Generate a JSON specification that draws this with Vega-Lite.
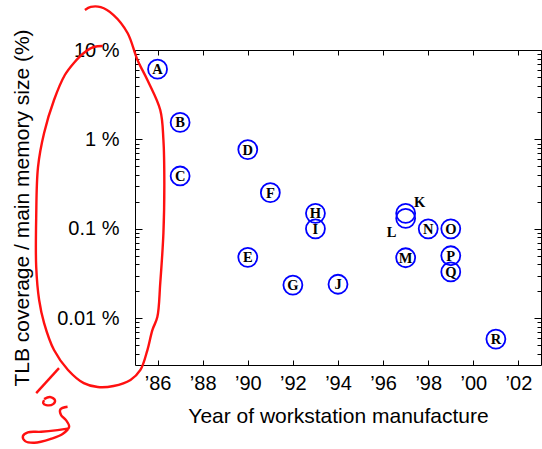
{
  "$schema": "https://vega.github.io/schema/vega-lite/v6.json",
  "width": 406,
  "height": 315,
  "autosize": {"type": "none"},
  "padding": {"left": 135, "top": 50, "right": 1, "bottom": 84},
  "config": {
    "view": {"stroke": "black", "strokeWidth": 1},
    "axis": {
      "labelFont": "Liberation Sans",
      "titleFont": "Liberation Sans",
      "labelColor": "black",
      "titleColor": "black",
      "tickColor": "black",
      "domain": false,
      "grid": false,
      "titleFontWeight": "normal"
    }
  },
  "datasets": {
    "machines": [
      {"id": "A", "year": 1986, "pct": 6.1},
      {"id": "B", "year": 1987, "pct": 1.55},
      {"id": "C", "year": 1987, "pct": 0.39},
      {"id": "D", "year": 1990, "pct": 0.77},
      {"id": "E", "year": 1990, "pct": 0.048},
      {"id": "F", "year": 1991, "pct": 0.254},
      {"id": "G", "year": 1992, "pct": 0.0235},
      {"id": "H", "year": 1993, "pct": 0.149},
      {"id": "I", "year": 1993, "pct": 0.1},
      {"id": "J", "year": 1994, "pct": 0.024},
      {"id": "K", "year": 1997, "pct": 0.149},
      {"id": "L", "year": 1997, "pct": 0.131},
      {"id": "M", "year": 1997, "pct": 0.0475},
      {"id": "N", "year": 1998, "pct": 0.1},
      {"id": "O", "year": 1999, "pct": 0.1},
      {"id": "P", "year": 1999, "pct": 0.05},
      {"id": "Q", "year": 1999, "pct": 0.033},
      {"id": "R", "year": 2001, "pct": 0.00585}
    ],
    "scribble": [
      {"s": "loop", "o": 1, "year": 1982.78, "pct": 28.0},
      {"s": "loop", "o": 2, "year": 1983.04, "pct": 30.3},
      {"s": "loop", "o": 3, "year": 1983.48, "pct": 30.1},
      {"s": "loop", "o": 4, "year": 1984.05, "pct": 24.6},
      {"s": "loop", "o": 5, "year": 1984.67, "pct": 15.5},
      {"s": "loop", "o": 6, "year": 1985.11, "pct": 7.73},
      {"s": "loop", "o": 7, "year": 1985.55, "pct": 4.61},
      {"s": "loop", "o": 8, "year": 1986.12, "pct": 2.13},
      {"s": "loop", "o": 9, "year": 1986.26, "pct": 0.985},
      {"s": "loop", "o": 10, "year": 1986.3, "pct": 0.325},
      {"s": "loop", "o": 11, "year": 1986.26, "pct": 0.0897},
      {"s": "loop", "o": 12, "year": 1986.12, "pct": 0.0248},
      {"s": "loop", "o": 13, "year": 1985.99, "pct": 0.0103},
      {"s": "loop", "o": 14, "year": 1985.77, "pct": 0.00738},
      {"s": "loop", "o": 15, "year": 1985.55, "pct": 0.00441},
      {"s": "loop", "o": 16, "year": 1985.24, "pct": 0.00264},
      {"s": "loop", "o": 17, "year": 1984.8, "pct": 0.00204},
      {"s": "loop", "o": 18, "year": 1984.05, "pct": 0.001746},
      {"s": "loop", "o": 19, "year": 1983.35, "pct": 0.0017},
      {"s": "loop", "o": 20, "year": 1982.73, "pct": 0.00188},
      {"s": "loop", "o": 21, "year": 1982.03, "pct": 0.00264},
      {"s": "loop", "o": 22, "year": 1981.41, "pct": 0.00441},
      {"s": "loop", "o": 23, "year": 1980.97, "pct": 0.00883},
      {"s": "loop", "o": 24, "year": 1980.75, "pct": 0.016},
      {"s": "loop", "o": 25, "year": 1980.62, "pct": 0.0374},
      {"s": "loop", "o": 26, "year": 1980.62, "pct": 0.1355},
      {"s": "loop", "o": 27, "year": 1980.7, "pct": 0.491},
      {"s": "loop", "o": 28, "year": 1980.97, "pct": 1.18},
      {"s": "loop", "o": 29, "year": 1981.41, "pct": 2.76},
      {"s": "loop", "o": 30, "year": 1981.89, "pct": 5.25},
      {"s": "loop", "o": 31, "year": 1982.29, "pct": 7.17},
      {"s": "loop", "o": 32, "year": 1982.73, "pct": 9.26},
      {"s": "loop", "o": 33, "year": 1983.17, "pct": 10.8},
      {"s": "loop", "o": 34, "year": 1983.57, "pct": 11.09},
      {"s": "l", "o": 1, "year": 1981.63, "pct": 0.00277},
      {"s": "l", "o": 2, "year": 1980.62, "pct": 0.001455},
      {"s": "o", "o": 1, "year": 1980.97, "pct": 0.001216},
      {"s": "o", "o": 2, "year": 1980.93, "pct": 0.001125},
      {"s": "o", "o": 3, "year": 1981.06, "pct": 0.001069},
      {"s": "o", "o": 4, "year": 1981.37, "pct": 0.001096},
      {"s": "o", "o": 5, "year": 1981.45, "pct": 0.001216},
      {"s": "o", "o": 6, "year": 1981.23, "pct": 0.001315},
      {"s": "o", "o": 7, "year": 1980.97, "pct": 0.001247},
      {"s": "g", "o": 1, "year": 1982.01, "pct": 0.001023},
      {"s": "g", "o": 2, "year": 1981.69, "pct": 0.000957},
      {"s": "g", "o": 3, "year": 1981.72, "pct": 0.000826},
      {"s": "g", "o": 4, "year": 1981.94, "pct": 0.000726},
      {"s": "g", "o": 5, "year": 1982.08, "pct": 0.000611},
      {"s": "g", "o": 6, "year": 1981.79, "pct": 0.000507},
      {"s": "g", "o": 7, "year": 1981.28, "pct": 0.000449},
      {"s": "g", "o": 8, "year": 1980.54, "pct": 0.000405},
      {"s": "g", "o": 9, "year": 1980.13, "pct": 0.000423},
      {"s": "g", "o": 10, "year": 1980.03, "pct": 0.000481},
      {"s": "g", "o": 11, "year": 1980.25, "pct": 0.00053},
      {"s": "g", "o": 12, "year": 1980.84, "pct": 0.000537},
      {"s": "g", "o": 13, "year": 1981.57, "pct": 0.000561},
      {"s": "g", "o": 14, "year": 1982.08, "pct": 0.000586}
    ]
  },
  "layer": [
    {
      "data": {"name": "machines"},
      "mark": {"type": "point", "shape": "circle", "filled": false, "stroke": "#0000ff", "strokeWidth": 1.8, "opacity": 1, "size": 360},
      "encoding": {
        "x": {
          "field": "year", "type": "quantitative",
          "scale": {"domain": [1985, 2003], "nice": false, "zero": false},
          "axis": {
            "orient": "bottom",
            "values": [1986, 1988, 1990, 1992, 1994, 1996, 1998, 2000, 2002],
            "tickSize": -5,
            "labelPadding": 13,
            "labelFontSize": 20,
            "labelExpr": "'’' + format(datum.value % 100, '02d')",
            "title": "Year of workstation manufacture",
            "titleFontSize": 21,
            "titlePadding": 12
          }
        },
        "y": {
          "field": "pct", "type": "quantitative",
          "scale": {"type": "log", "domain": [0.003, 10], "nice": false, "zero": false},
          "axis": {
            "orient": "left",
            "values": [0.01, 0.1, 1, 10],
            "tickSize": -7,
            "labelPadding": 23,
            "labelFontSize": 20,
            "labelExpr": "format(datum.value, '~g') + ' %'",
            "title": "TLB coverage / main memory size (%)",
            "titleFontSize": 21,
            "titlePadding": 24
          }
        }
      }
    },
    {
      "data": {"name": "machines"},
      "transform": [{"filter": "datum.id !== 'K' && datum.id !== 'L'"}],
      "mark": {"type": "text", "font": "Liberation Serif", "fontWeight": "bold", "fontSize": 14.5, "color": "black", "align": "center", "baseline": "middle", "dy": 1},
      "encoding": {
        "text": {"field": "id"},
        "x": {
          "field": "year", "type": "quantitative",
          "scale": {"domain": [1985, 2003], "nice": false, "zero": false},
          "axis": {"orient": "top", "values": [1986, 1988, 1990, 1992, 1994, 1996, 1998, 2000, 2002], "tickSize": -5, "labels": false, "title": null}
        },
        "y": {
          "field": "pct", "type": "quantitative",
          "scale": {"type": "log", "domain": [0.003, 10], "nice": false, "zero": false},
          "axis": {"orient": "right", "values": [0.01, 0.1, 1, 10], "tickSize": -7, "labels": false, "title": null}
        }
      }
    },
    {
      "data": {"name": "machines"},
      "transform": [{"filter": "datum.id === 'K'"}],
      "mark": {"type": "text", "font": "Liberation Serif", "fontWeight": "bold", "fontSize": 14.5, "color": "black", "align": "center", "baseline": "middle", "dx": 14, "dy": -10},
      "encoding": {
        "text": {"field": "id"},
        "x": {"field": "year", "type": "quantitative", "scale": {"domain": [1985, 2003], "nice": false, "zero": false}, "axis": null},
        "y": {
          "field": "pct", "type": "quantitative",
          "scale": {"type": "log", "domain": [0.003, 10], "nice": false, "zero": false},
          "axis": {"orient": "left", "values": [0.004, 0.005, 0.006, 0.007, 0.008, 0.009, 0.02, 0.03, 0.04, 0.05, 0.06, 0.07, 0.08, 0.09, 0.2, 0.3, 0.4, 0.5, 0.6, 0.7, 0.8, 0.9, 2, 3, 4, 5, 6, 7, 8, 9], "tickSize": -4, "labels": false, "title": null}
        }
      }
    },
    {
      "data": {"name": "machines"},
      "transform": [{"filter": "datum.id === 'L'"}],
      "mark": {"type": "text", "font": "Liberation Serif", "fontWeight": "bold", "fontSize": 14.5, "color": "black", "align": "center", "baseline": "middle", "dx": -14, "dy": 15},
      "encoding": {
        "text": {"field": "id"},
        "x": {"field": "year", "type": "quantitative", "scale": {"domain": [1985, 2003], "nice": false, "zero": false}, "axis": null},
        "y": {
          "field": "pct", "type": "quantitative",
          "scale": {"type": "log", "domain": [0.003, 10], "nice": false, "zero": false},
          "axis": {"orient": "right", "values": [0.004, 0.005, 0.006, 0.007, 0.008, 0.009, 0.02, 0.03, 0.04, 0.05, 0.06, 0.07, 0.08, 0.09, 0.2, 0.3, 0.4, 0.5, 0.6, 0.7, 0.8, 0.9, 2, 3, 4, 5, 6, 7, 8, 9], "tickSize": -4, "labels": false, "title": null}
        }
      }
    },
    {
      "data": {"name": "scribble"},
      "mark": {"type": "line", "color": "#ff1010", "strokeWidth": 2.4, "clip": false, "interpolate": "catmull-rom"},
      "encoding": {
        "detail": {"field": "s"},
        "order": {"field": "o", "type": "quantitative"},
        "x": {"field": "year", "type": "quantitative", "scale": {"domain": [1985, 2003], "nice": false, "zero": false}, "axis": null},
        "y": {"field": "pct", "type": "quantitative", "scale": {"type": "log", "domain": [0.003, 10], "nice": false, "zero": false}, "axis": null}
      }
    }
  ],
  "resolve": {"axis": {"x": "independent", "y": "independent"}}
}
